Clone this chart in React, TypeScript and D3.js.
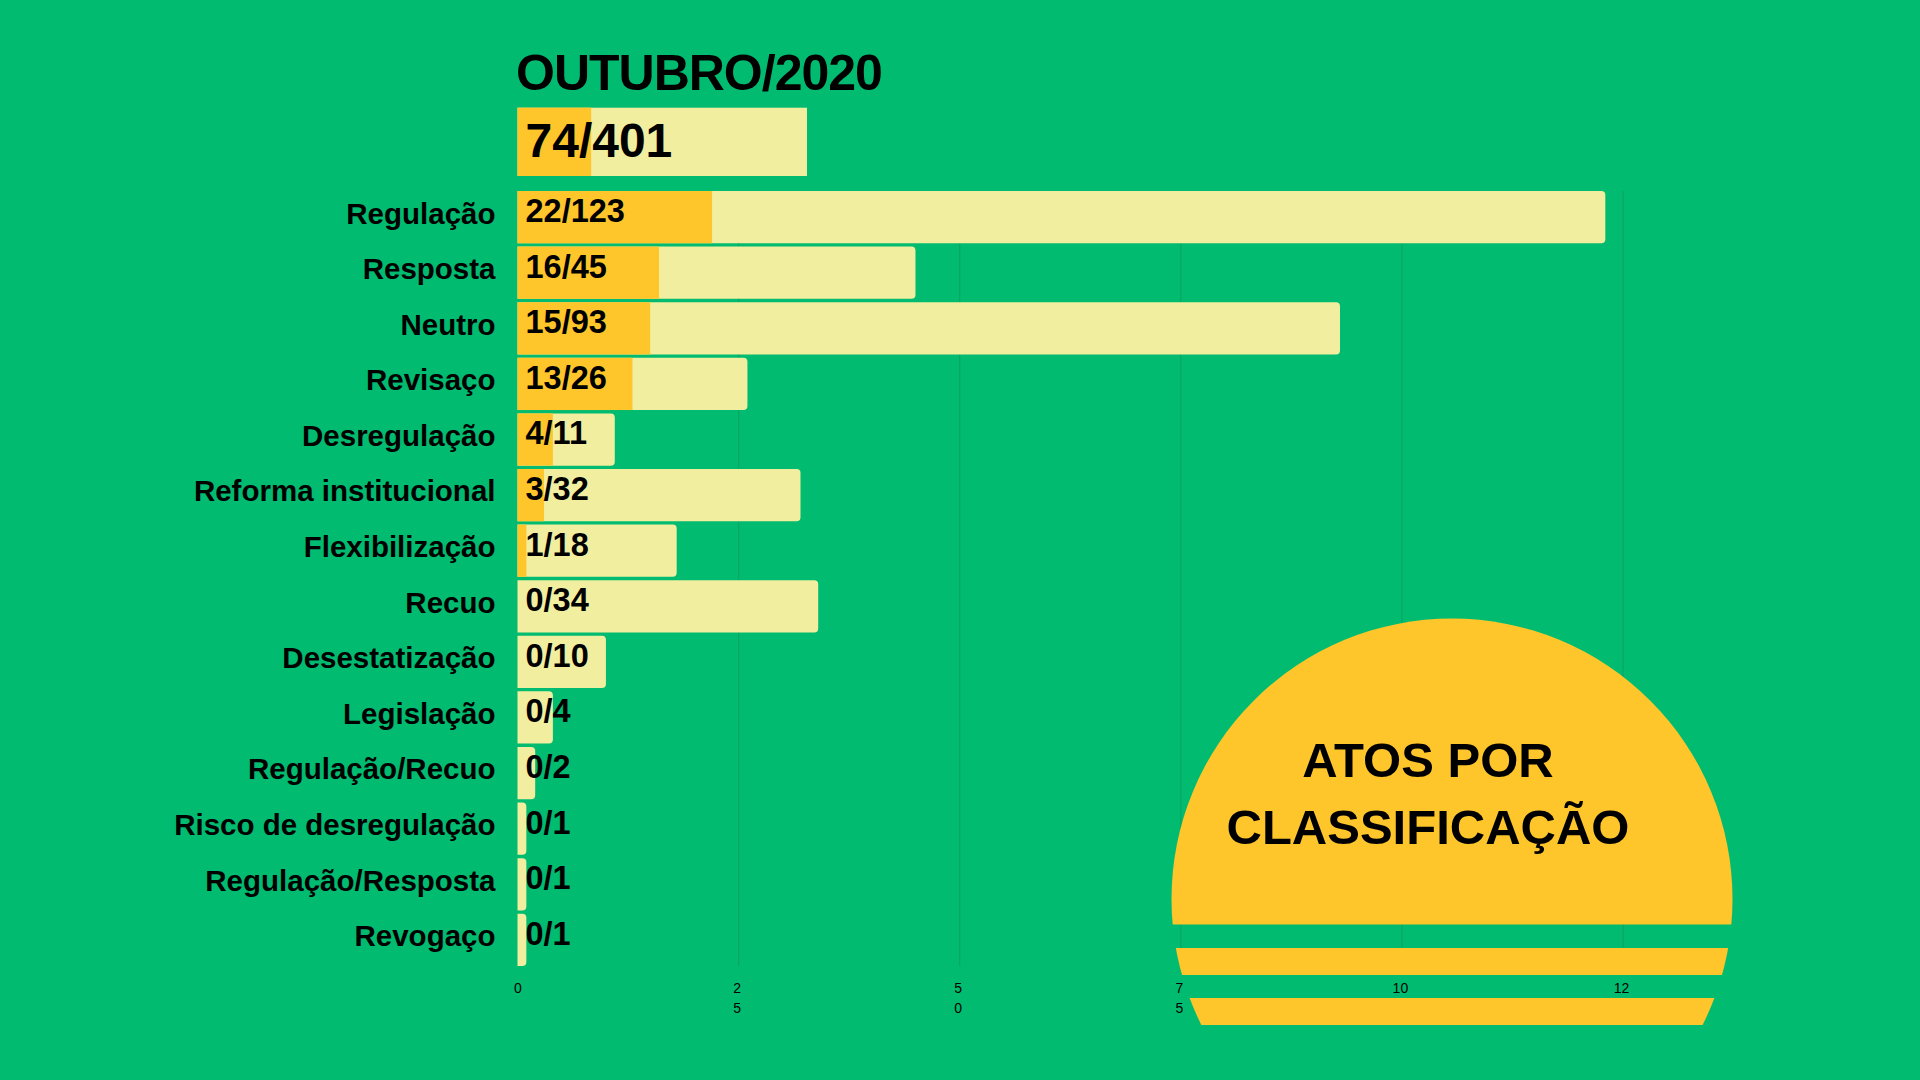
import React from 'react';
import * as d3 from "d3";

// values
const title = "OUTUBRO/2020";
const summaryHighlighted = 74;
const summaryTotal = 401;
const categories = [
    "Regulação", "Resposta", "Neutro", "Revisaço", "Desregulação",
    "Reforma institucional", "Flexibilização", "Recuo", "Desestatização",
    "Legislação", "Regulação/Recuo", "Risco de desregulação",
    "Regulação/Resposta", "Revogaço",
];
const highlighted = [22, 16, 15, 13, 4, 3, 1, 0, 0, 0, 0, 0, 0, 0];
const totals = [123, 45, 93, 26, 11, 32, 18, 34, 10, 4, 2, 1, 1, 1];
const tickValues = [0, 25, 50, 75, 100, 125];
const badgeLines = ["ATOS POR", "CLASSIFICAÇÃO"];

const GREEN = "#00bb70";
const GRID = "#0ba562";
const ORANGE = "#fec62a";
const LIGHT = "#f2ee9f";
const FONT = "'Liberation Sans', Arial, Helvetica, sans-serif";

// rect with rounded right corners only
const rightRounded = (x: number, y: number, w: number, h: number, r: number) => {
    const rr = Math.min(r, w / 2, h / 2);
    return `M${x},${y}H${x + w - rr}Q${x + w},${y} ${x + w},${y + rr}`
        + `V${y + h - rr}Q${x + w},${y + h} ${x + w - rr},${y + h}H${x}Z`;
};

const App = () => {
    const svgRef = React.useRef<SVGSVGElement>(null);
    const width = 1920;
    const height = 1080;

    React.useEffect(() => {
        const svg = d3.select(svgRef.current);
        svg.selectAll("*").remove();

        svg.append("rect")
            .attr("width", width)
            .attr("height", height)
            .attr("fill", GREEN);

        const x = d3.scaleLinear()
            .domain([0, 125])
            .range([517.5, 1623]);

        const y = d3.scaleBand<string>()
            .domain(categories)
            .range([191, 966])
            .paddingInner(0.06)
            .paddingOuter(0);

        // summary bar has its own scale
        const xSummary = d3.scalePow()
            .exponent(0.81)
            .domain([0, summaryTotal])
            .range([0, 289.5]);

        // title
        svg.append("text")
            .attr("x", 516)
            .attr("y", 90)
            .attr("font-family", FONT)
            .attr("font-weight", "bold")
            .attr("font-size", 50)
            .attr("letter-spacing", -1)
            .attr("fill", "#000")
            .text(title);

        // gridlines
        svg.append("g")
            .selectAll("line")
            .data(tickValues.filter(t => t > 0))
            .enter()
            .append("line")
            .attr("x1", d => x(d))
            .attr("x2", d => x(d))
            .attr("y1", y.range()[0])
            .attr("y2", y.range()[1])
            .attr("stroke", GRID)
            .attr("stroke-width", 1.2);

        // summary bar
        const summary = svg.append("g").attr("transform", "translate(517.5,107.7)");
        summary.append("rect")
            .attr("width", xSummary(summaryTotal))
            .attr("height", 68.3)
            .attr("fill", LIGHT);
        summary.append("rect")
            .attr("width", xSummary(summaryHighlighted))
            .attr("height", 68.3)
            .attr("fill", ORANGE);
        summary.append("text")
            .attr("x", 8)
            .attr("y", 49)
            .attr("font-family", FONT)
            .attr("font-weight", "bold")
            .attr("font-size", 48)
            .attr("fill", "#000")
            .text(`${summaryHighlighted}/${summaryTotal}`);

        const rows = categories.map((name, i) => ({
            name,
            part: highlighted[i],
            total: totals[i],
        }));

        const row = svg.append("g")
            .selectAll("g")
            .data(rows)
            .enter()
            .append("g")
            .attr("transform", d => "translate(0," + y(d.name) + ")");

        row.append("path")
            .attr("d", d => rightRounded(x(0), 0, x(d.total) - x(0), y.bandwidth(), 4))
            .attr("fill", LIGHT);

        row.filter(d => d.part > 0)
            .append("rect")
            .attr("x", x(0))
            .attr("width", d => x(d.part) - x(0))
            .attr("height", y.bandwidth())
            .attr("fill", ORANGE);

        row.append("text")
            .attr("x", x(0) + 8)
            .attr("y", 31)
            .attr("font-family", FONT)
            .attr("font-weight", "bold")
            .attr("font-size", 32.5)
            .attr("fill", "#000")
            .text(d => `${d.part}/${d.total}`);

        row.append("text")
            .attr("x", 495.5)
            .attr("y", 32.5)
            .attr("text-anchor", "end")
            .attr("font-family", FONT)
            .attr("font-weight", "bold")
            .attr("font-size", 29.5)
            .attr("fill", "#000")
            .text(d => d.name);

        // x axis, labels wrap to a second line like the original
        const axis = svg.append("g")
            .attr("transform", "translate(-2,980)")
            .call(d3.axisBottom(x).tickValues(tickValues).tickSize(0).tickPadding(0));
        axis.select(".domain").remove();
        axis.selectAll<SVGTextElement, number>("text")
            .attr("font-family", FONT)
            .attr("font-size", 14)
            .attr("fill", "#000")
            .attr("dy", null)
            .attr("y", 0)
            .each(function (d) {
                const s = String(d);
                const t = d3.select(this).text("");
                if (s.length === 1) {
                    t.append("tspan").attr("x", 2).attr("y", 13).text(s);
                } else {
                    t.append("tspan").attr("x", 0).attr("y", 13).text(s.slice(0, -1));
                    t.append("tspan").attr("x", 0).attr("y", 33).text(s.slice(-1));
                }
            });

        // sun badge
        const defs = svg.append("defs");
        const clip = defs.append("clipPath").attr("id", "sun-clip");
        const bands = [[600, 924.5], [948, 975], [998, 1025]];
        clip.selectAll("rect")
            .data(bands)
            .enter()
            .append("rect")
            .attr("x", 1100)
            .attr("y", d => d[0])
            .attr("width", 700)
            .attr("height", d => d[1] - d[0]);

        svg.append("circle")
            .attr("cx", 1452)
            .attr("cy", 899)
            .attr("r", 280.5)
            .attr("fill", ORANGE)
            .attr("clip-path", "url(#sun-clip)");

        svg.append("g")
            .selectAll("text")
            .data(badgeLines)
            .enter()
            .append("text")
            .attr("x", 1428)
            .attr("y", (d, i) => 777 + i * 67)
            .attr("text-anchor", "middle")
            .attr("font-family", FONT)
            .attr("font-weight", "bold")
            .attr("font-size", 49)
            .attr("fill", "#000")
            .text(d => d);

        return () => {
            svg.selectAll("*").remove();
        };
    }, []);

    return (
        <svg
            ref={svgRef}
            width={width}
            height={height}
            style={{position: "absolute", left: 0, top: 0}}>
        </svg>
    );
};

export default App;
